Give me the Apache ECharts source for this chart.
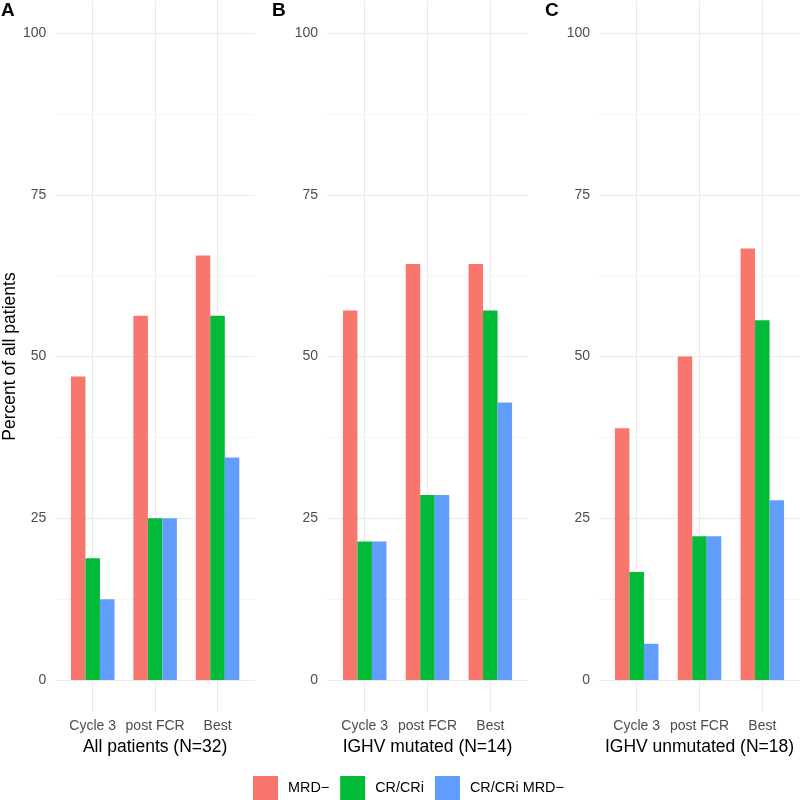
<!DOCTYPE html>
<html><head><meta charset="utf-8">
<script src="https://cdn.jsdelivr.net/npm/echarts@6/dist/echarts.min.js"></script>
<style>html,body{margin:0;padding:0;background:#fff}#c{width:800px;height:800px}</style>
</head><body><div id="c"></div>
<script>
const categories = ['Cycle 3', 'post FCR', 'Best'];
const panelLabels = ['A', 'B', 'C'];
const panelTitles = ['All patients (N=32)', 'IGHV mutated (N=14)', 'IGHV unmutated (N=18)'];
const seriesNames = ['MRD−', 'CR/CRi', 'CR/CRi MRD−'];
const seriesColors = ['#F8766D', '#00BA38', '#619CFF'];
// panel A: all patients
const allMRD = [46.9, 56.3, 65.6];
const allCR = [18.8, 25.0, 56.3];
const allCRMRD = [12.5, 25.0, 34.4];
// panel B: IGHV mutated
const mutMRD = [57.1, 64.3, 64.3];
const mutCR = [21.4, 28.6, 57.1];
const mutCRMRD = [21.4, 28.6, 42.9];
// panel C: IGHV unmutated
const unmutMRD = [38.9, 50.0, 66.7];
const unmutCR = [16.7, 22.2, 55.6];
const unmutCRMRD = [5.6, 22.2, 27.8];
const yTicks = [0, 25, 50, 75, 100];
const yMinor = [12.5, 37.5, 62.5, 87.5];

const panels = [
  [allMRD, allCR, allCRMRD],
  [mutMRD, mutCR, mutCRMRD],
  [unmutMRD, unmutCR, unmutCRMRD]
];
const catPos = categories.map((c, j) => j + 1);
const gridLefts = [54, 327, 599];
const panelLabelLefts = [1, 272, 545];
const FONT = "'Liberation Sans', Arial, Helvetica, sans-serif";

const grids = [], xAxes = [], yAxes = [], series = [], titles = [];
panels.forEach((vals, i) => {
  grids.push({ left: gridLefts[i], top: 0.65, width: 201, height: 711.7 });
  titles.push({ text: panelLabels[i], left: panelLabelLefts[i], top: 1, padding: 0,
    textStyle: { fontSize: 19, fontWeight: 'bold', color: '#000', fontFamily: FONT } });
  xAxes.push({
    type: 'value', gridIndex: i, min: 0.4, max: 3.6,
    axisLine: { show: false },
    axisTick: { show: false, customValues: catPos },
    axisLabel: { customValues: catPos, formatter: v => categories[Math.round(v) - 1],
      color: '#4D4D4D', fontSize: 14, margin: 7, fontFamily: FONT },
    splitLine: { show: true, lineStyle: { color: '#EBEBEB', width: 1.1 } },
    name: panelTitles[i], nameLocation: 'middle', nameGap: 25,
    nameTextStyle: { fontSize: 17.5, color: '#000', fontFamily: FONT }
  });
  const ya = {
    type: 'value', gridIndex: i, min: -5, max: 105,
    axisLine: { show: false },
    axisTick: { show: false, customValues: yTicks },
    axisLabel: { customValues: yTicks, color: '#4D4D4D', fontSize: 14, margin: 9, fontFamily: FONT },
    splitLine: { show: true, lineStyle: { color: '#EBEBEB', width: 1.1 } }
  };
  if (i === 0) {
    ya.name = 'Percent of all patients';
    ya.nameLocation = 'middle';
    ya.nameRotate = 90;
    ya.nameGap = 33;
    ya.nameTextStyle = { fontSize: 17.5, color: '#000', fontFamily: FONT };
  }
  yAxes.push(ya);
  series.push({
    type: 'line', xAxisIndex: i, yAxisIndex: i, data: [], z: 1, silent: true,
    markLine: { silent: true, symbol: 'none', label: { show: false }, animation: false, z: 1,
      lineStyle: { color: '#F0F0F0', width: 0.6, type: 'solid' },
      data: yMinor.map(v => [{ coord: [0.4, v] }, { coord: [3.6, v] }]) }
  });
  vals.forEach((arr, s) => {
    series.push({
      type: 'bar', name: seriesNames[s], xAxisIndex: i, yAxisIndex: i,
      barWidth: 14.5, barGap: '0%', z: 3,
      itemStyle: { color: seriesColors[s] },
      data: arr.map((v, j) => [catPos[j], v])
    });
  });
});

const chart = echarts.init(document.getElementById('c'), null, { renderer: 'canvas' });
chart.setOption({
  animation: false,
  textStyle: { fontFamily: FONT },
  title: titles,
  grid: grids,
  xAxis: xAxes,
  yAxis: yAxes,
  legend: {
    data: seriesNames, left: 248, top: 771, icon: 'rect',
    itemWidth: 25, itemHeight: 25, itemGap: 11,
    textStyle: { fontSize: 14.4, color: '#000', fontFamily: FONT, padding: [0, 0, 0, 5] }
  },
  series: series
});
</script></body></html>
